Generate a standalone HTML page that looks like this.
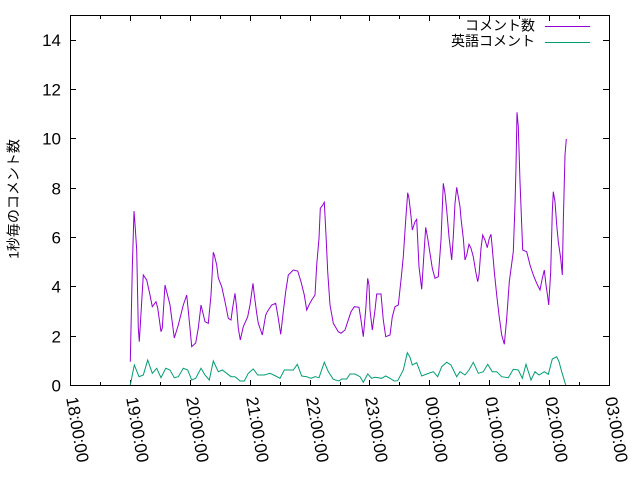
<!DOCTYPE html>
<html><head><meta charset="utf-8"><style>
html,body{margin:0;padding:0;background:#fff;}
svg{display:block;}
text{font-family:"Liberation Sans","Noto Sans CJK JP",sans-serif;fill:#000;}
</style></head><body>
<svg width="640" height="480" viewBox="0 0 640 480" xmlns="http://www.w3.org/2000/svg">
<rect width="640" height="480" fill="#fff"/>
<g stroke="#000" stroke-width="1" fill="none">
<!-- y ticks left & right -->
<path d="M70 385.5h6M70 336.5h6M70 286.5h6M70 237.5h6M70 188.5h6M70 138.5h6M70 89.5h6M70 40.5h6
M609 385.5h-6M609 336.5h-6M609 286.5h-6M609 237.5h-6M609 188.5h-6M609 138.5h-6M609 89.5h-6M609 40.5h-6"/>
<!-- x ticks bottom -->
<path d="M70.5 385v-5M130.5 385v-5M190.5 385v-5M250.5 385v-5M310.5 385v-5M369.5 385v-5M429.5 385v-5M489.5 385v-5M549.5 385v-5
M100.5 385v-3M160.5 385v-3M220.5 385v-3M280.5 385v-3M340.5 385v-3M399.5 385v-3M459.5 385v-3M519.5 385v-3M579.5 385v-3"/>
<!-- x ticks top -->
<path d="M70.5 16v5M130.5 16v5M190.5 16v5M250.5 16v5M310.5 16v5M369.5 16v5M429.5 16v5M489.5 16v5M549.5 16v5
M100.5 16v3M160.5 16v3M220.5 16v3M280.5 16v3M340.5 16v3M399.5 16v3M459.5 16v3M519.5 16v3M579.5 16v3"/>
</g>
<!-- series -->
<polyline fill="none" stroke="#9400d3" stroke-width="1" points="130.3,361.7 132.3,268 134,211 135,224 136.7,250 138.3,328 139.3,341.7 141.7,301.7 143.3,275 146.7,280 150,295 152.3,306.7 156,301.7 157.7,308 161,331.7 162.3,328 165,285 166.7,291.7 170,305 174.3,338 178.3,325 183.3,305 186.7,295 190,328 191.7,346.7 195.7,343 198.3,328 201,305 205,321.7 208.3,323.3 211,295 213.3,252.3 214.3,255 216.7,265 218.3,278 221.7,286.7 225,301.7 228.3,318.3 231,320 232.3,310 235,293.3 236.7,308.3 238.3,328.3 240.3,340 243.3,326.7 247.7,316.7 250,305 253,283.3 254.3,295 256.7,313.3 258.3,323.3 262.3,335 265.7,315 267.3,311.7 271.7,305 275.7,303.3 278.3,318.3 280.7,334.3 283.3,311.7 285.7,291.7 288.3,275 293.3,270 297.7,271 301,281.7 304.3,295 306.7,310 309,305 311.7,300 315,295 316.7,265 319,238.3 320.3,208.3 322.3,205.7 324.3,202.3 326,235 327.7,271.7 330,305 333.3,323.3 338.3,331.7 341,333.3 345,330 347.7,321.7 351,311.7 354.3,306.7 359,307.3 361,320 363.3,336.7 365.7,310 367.7,278.3 369,285 370,310 372.3,330 375,310 376.7,294 381,294 383.3,320 385.7,336.7 390,335 392.3,316.7 395,306.7 398.3,305 401,280 403.3,256.7 405.7,220 407.7,192.7 409,198.3 410.7,213.3 412.3,230 415,221.7 416.7,219.3 419,266.7 421.7,289.3 424.3,248.3 425.7,227.3 427.7,238.3 430,253.3 432.3,268.3 435,278.3 438.3,276.7 441,240 443.3,183.3 445,193.3 446.7,210 449,236.7 451.7,260 453.3,236.7 455,203.3 456.7,187.3 458.3,196.7 460,206.7 461,218.3 463.3,238.3 465,260 466.7,255 469,244.3 471,248.3 473.3,256.7 475.7,271.7 477.7,281.7 479,275 481,248.3 482.7,235 485,240 487.3,247.7 489.3,238.3 491,234.3 492.3,248.3 494.3,271.7 496.7,295 499,315 501.7,335 504.3,344.3 506.7,318.3 509.3,281.7 513.3,251.7 515,205 516,166.7 517,112.3 518.3,126.7 520,181.7 522.7,250 526.7,251.7 530,265 533.3,275 536.7,283.3 540,290 542.3,278.3 544.3,270 546,285 547.7,296.7 548.7,305 550.7,271.7 552.3,211.7 553.3,191.7 555,201.7 556.7,225 558.3,241.7 560.7,258.3 562.3,275 563.3,221.7 565,155 566.3,139"/>
<polyline fill="none" stroke="#009e73" stroke-width="1" points="130.3,385 134.3,365 139,376.7 143.3,375 147.7,360 152.3,373.3 156.7,368.3 161,377.7 165.7,368.3 170,370 174.3,377.7 178.3,376.7 183.3,368.3 187.7,370 191.7,380 195.7,378.3 201,368.3 205,375 209.3,380 213.3,361 218.3,371.7 222.3,370 226.7,373.3 231,376.7 235,376.7 240,381 244.3,381 248.3,373.3 253.3,369 257.7,375 264.3,375 270,373.3 275.7,376 280,378.3 284.3,370 293.3,370 297.3,364.3 301.7,376 306.7,376.7 311,378.3 315,376.7 319,377.7 324.3,362.3 328.3,371.7 333.3,379.3 339,381 341.7,379 346.7,379 350,374 355,374 360,376.7 363.3,382.3 367.7,374 371.7,378.3 375,377.3 381.7,378.3 385.7,376 390,378.3 394.3,381 397.7,380.7 403.3,370 407.3,352.7 410,357.3 412.3,365 416.7,362.7 421.7,376 426.7,374 433.3,371.7 437.7,376.7 441.7,366.7 446.7,362.3 451,365 456.7,376.7 460,371.7 465,375 469,370 473.3,362.3 478.3,373.3 483.3,371.7 487.7,364.3 492.3,371.7 496.7,371.7 501.7,376.7 508.3,377.7 513.3,369.3 518.3,370 522.3,378.3 526,364.3 531,380 535,371.7 539,375 544.3,371.7 548.3,374.3 552.3,359 556.7,356.7 559,361.7 561.7,371.7 565.7,385"/>
<!-- border -->
<rect x="70.5" y="15.5" width="539" height="370" fill="none" stroke="#000" stroke-width="1"/>
<!-- y tick labels -->
<g font-size="17" text-anchor="end">
<text x="61" y="391.5">0</text>
<text x="61" y="342.5">2</text>
<text x="61" y="292.5">4</text>
<text x="61" y="243.5">6</text>
<text x="61" y="194.5">8</text>
<text x="61" y="144.5">10</text>
<text x="61" y="95.5">12</text>
<text x="61" y="46">14</text>
</g>
<!-- x tick labels -->
<g font-size="17" dominant-baseline="central">
<text transform="translate(71.5,397) rotate(80)">18:00:00</text>
<text transform="translate(131.5,397) rotate(80)">19:00:00</text>
<text transform="translate(191.5,397) rotate(80)">20:00:00</text>
<text transform="translate(251.5,397) rotate(80)">21:00:00</text>
<text transform="translate(311.5,397) rotate(80)">22:00:00</text>
<text transform="translate(370.5,397) rotate(80)">23:00:00</text>
<text transform="translate(430.5,397) rotate(80)">00:00:00</text>
<text transform="translate(490.5,397) rotate(80)">01:00:00</text>
<text transform="translate(550.5,397) rotate(80)">02:00:00</text>
<text transform="translate(610.5,397) rotate(80)">03:00:00</text>
</g>
<!-- y axis label -->
<text font-size="14" text-anchor="middle" dominant-baseline="central" transform="translate(13.5,199) rotate(-90)">1秒毎のコメント数</text>
<!-- legend -->
<g font-size="14" text-anchor="end" dominant-baseline="central">
<text x="535" y="25.5">コメント数</text>
<text x="535" y="41">英語コメント</text>
</g>
<path d="M545 26.5h45" stroke="#9400d3" stroke-width="1"/>
<path d="M545 42.5h45" stroke="#009e73" stroke-width="1"/>
</svg>
</body></html>
